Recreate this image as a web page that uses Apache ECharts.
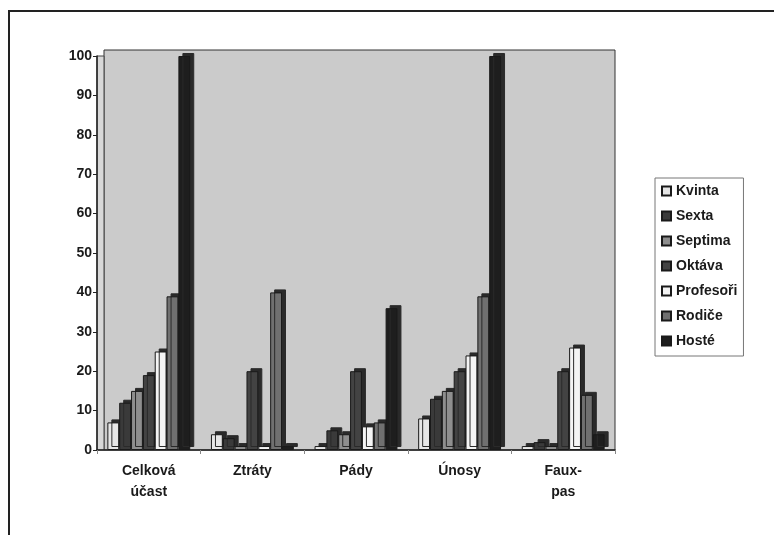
<!DOCTYPE html>
<html>
<head>
<meta charset="utf-8">
<script src="https://cdn.jsdelivr.net/npm/echarts@6/dist/echarts.min.js"></script>
<style>
  html, body { margin: 0; padding: 0; background: #fff; }
  #chart { width: 774px; height: 535px; }
</style>
</head>
<body>
<div id="chart"></div>
<script>
// categories along the floor
const categories = ['Celková\núčast', 'Ztráty', 'Pády', 'Únosy', 'Faux-\npas']

// one array per class
const kvinta    = [7, 4, 1, 8, 1]
const sexta     = [12, 3, 5, 13, 2]
const septima   = [15, 1, 4, 15, 1]
const oktava    = [19, 20, 20, 20, 20]
const profesori = [25, 1, 6, 24, 26]
const rodice    = [39, 40, 7, 39, 14]
const hoste     = [100, 1, 36, 100, 4]

const yTicks = { min: 0, max: 100, interval: 10 }

const seriesDefs = [
	{ name: 'Kvinta', data: kvinta, color: '#e6e6e6' },
	{ name: 'Sexta', data: sexta, color: '#3a3a3a' },
	{ name: 'Septima', data: septima, color: '#8e8e8e' },
	{ name: 'Oktáva', data: oktava, color: '#434343' },
	{ name: 'Profesoři', data: profesori, color: '#f4f4f4' },
	{ name: 'Rodiče', data: rodice, color: '#707070' },
	{ name: 'Hosté', data: hoste, color: '#1e1e1e' },
]

const chart = echarts.init(document.getElementById('chart'), null, { renderer: 'canvas' })

const font = '"Liberation Sans", Arial, sans-serif'
const txt = { fontSize: 14, fontWeight: 'bold', color: '#1a1a1a', fontFamily: font }

const option = {
	animation: false,
	backgroundColor: '#ffffff',
	textStyle: { fontFamily: font },
	grid: {
		left: 97,
		right: 159,
		top: 56,
		bottom: 85,
	},
	graphic: [
		// back wall
		{
			type: 'rect',
			z: -10,
			shape: { x: 104, y: 50, width: 511, height: 400 },
			style: { fill: '#cbcbcb', stroke: '#333', lineWidth: 1 },
		},
		// left wall strip
		{
			type: 'rect',
			z: -9,
			shape: { x: 97, y: 56, width: 7, height: 394 },
			style: { fill: '#d8d8d8', stroke: '#444', lineWidth: 1 },
		},
		// outer frame (top + left edge only, as scanned)
		{
			type: 'polyline',
			z: 10,
			shape: { points: [[9, 535], [9, 11], [774, 11]] },
			style: { stroke: '#222', lineWidth: 2, fill: null },
		},
	],
	legend: {
		orient: 'vertical',
		left: 655,
		top: 178,
		itemWidth: 9,
		itemHeight: 9,
		itemGap: 11,
		icon: 'rect',
		padding: [6, 6, 8, 6],
		borderColor: '#777',
		borderWidth: 1,
		textStyle: Object.assign({}, txt, { fontSize: 14 }),
		data: seriesDefs.map(s => s.name),
	},
	xAxis: {
		type: 'category',
		data: categories,
		axisLine: { show: true, lineStyle: { color: '#222', width: 1.5 } },
		axisTick: { show: true, length: 4, lineStyle: { color: '#888' } },
		axisLabel: Object.assign({}, txt, { lineHeight: 21, margin: 11 }),
	},
	yAxis: {
		type: 'value',
		min: yTicks.min,
		max: yTicks.max,
		interval: yTicks.interval,
		axisLine: { show: true, lineStyle: { color: '#222', width: 1.5 } },
		axisTick: { show: true, length: 4, lineStyle: { color: '#222' } },
		axisLabel: Object.assign({}, txt, { margin: 5 }),
		splitLine: { show: false },
	},
	series: seriesDefs.map(s => ({
		name: s.name,
		type: 'bar',
		data: s.data,
		barGap: '0%',
		barCategoryGap: '20%',
		itemStyle: {
			color: s.color,
			borderColor: '#1a1a1a',
			borderWidth: 1,
			shadowColor: '#2a2a2a',
			shadowOffsetX: 4,
			shadowOffsetY: -3,
			shadowBlur: 0,
		},
	})),
}

chart.setOption(option)
</script>
</body>
</html>
